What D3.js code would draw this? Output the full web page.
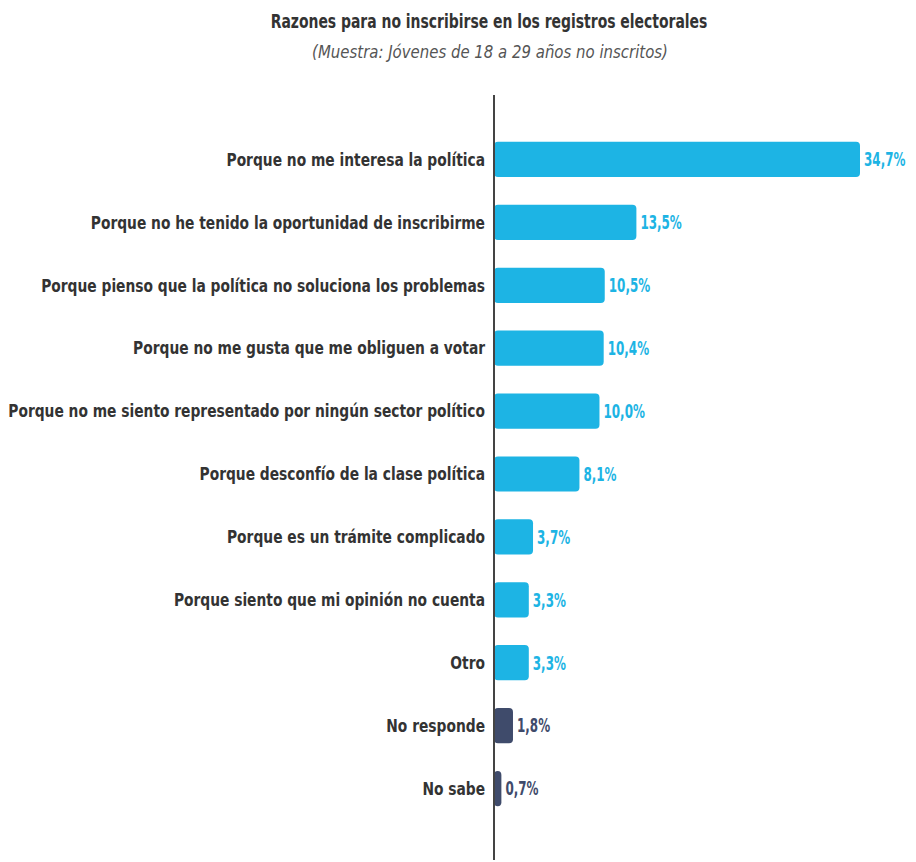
<!DOCTYPE html>
<html><head><meta charset="utf-8">
<script src="https://cdn.jsdelivr.net/npm/d3@7/dist/d3.min.js"></script>
<style>body{margin:0;background:#fff}svg{display:block}
text{font-family:'DejaVu Sans', sans-serif; font-stretch:condensed;}</style>
</head><body>
<svg id="c" width="916" height="862"></svg>
<script>
const categories = [
  "Porque no me interesa la política",
  "Porque no he tenido la oportunidad de inscribirme",
  "Porque pienso que la política no soluciona los problemas",
  "Porque no me gusta que me obliguen a votar",
  "Porque no me siento representado por ningún sector político",
  "Porque desconfío de la clase política",
  "Porque es un trámite complicado",
  "Porque siento que mi opinión no cuenta",
  "Otro",
  "No responde",
  "No sabe"
];
const values = [34.7, 13.5, 10.5, 10.4, 10.0, 8.1, 3.7, 3.3, 3.3, 1.8, 0.7];
const valueLabels = ["34,7%", "13,5%", "10,5%", "10,4%", "10,0%", "8,1%", "3,7%", "3,3%", "3,3%", "1,8%", "0,7%"];
const groups = ["main","main","main","main","main","main","main","main","main","nr","nr"];
const title = "Razones para no inscribirse en los registros electorales";
const subtitle = "(Muestra: Jóvenes de 18 a 29 años no inscritos)";

const svg = d3.select("#c");
const x0 = 494;
const x = d3.scaleLinear().domain([0, 34.7]).range([x0, 860]);
const y = d3.scaleBand().domain(categories).range([128, 820]).paddingInner(0.44).paddingOuter(0.22);
const color = d3.scaleOrdinal().domain(["main","nr"]).range(["#1db4e4", "#3f4b6b"]);

// title / subtitle, condensed horizontally by a transform
function fitted(cx, cy, txt, size, weight, style, fill, targetW) {
  const g = svg.append("g");
  const t = g.append("text").attr("text-anchor","middle")
    .attr("font-weight", weight).attr("font-style", style).attr("font-size", size)
    .attr("fill", fill).text(txt);
  const k = targetW / t.node().getComputedTextLength();
  g.attr("transform", `translate(${cx},${cy}) scale(${k},1)`);
}
fitted(489, 28, title, 19, "bold", "normal", "#333", 437);
fitted(490, 58, subtitle, 17, "normal", "italic", "#555", 356);

const rows = svg.append("g");
rows.selectAll("rect").data(values).join("rect")
  .attr("x", x0).attr("y", (d,i)=>y(categories[i]))
  .attr("width", d => x(d) - x0).attr("height", y.bandwidth())
  .attr("rx", 4).attr("fill", (d,i)=>color(groups[i]));

// category labels
const labG = rows.selectAll("g.cat").data(categories).join("g").attr("class","cat");
const labels = labG.append("text")
  .attr("dy","0.35em").attr("text-anchor","end")
  .attr("font-weight","bold").attr("font-size", 18)
  .attr("fill","#333").text(d=>d);
let maxW = 0;
labels.each(function(){ maxW = Math.max(maxW, this.getComputedTextLength()); });
const kLab = 477 / maxW;
labG.attr("transform", d => `translate(485,${y(d) + y.bandwidth()/2}) scale(${kLab},1)`);

// value labels
rows.selectAll("g.val").data(values).join("g")
  .attr("class","val")
  .attr("transform", (d,i) => `translate(${x(d) + 4},${y(categories[i]) + y.bandwidth()/2}) scale(0.7,1)`)
  .append("text")
  .attr("dy","0.36em")
  .attr("font-weight","bold").attr("font-size", 19)
  .attr("fill",(d,i)=>color(groups[i])).text((d,i)=>valueLabels[i]);

svg.append("line").attr("x1", x0).attr("x2", x0).attr("y1", 95).attr("y2", 860)
  .attr("stroke","#444").attr("stroke-width", 2);
</script>
</body></html>
